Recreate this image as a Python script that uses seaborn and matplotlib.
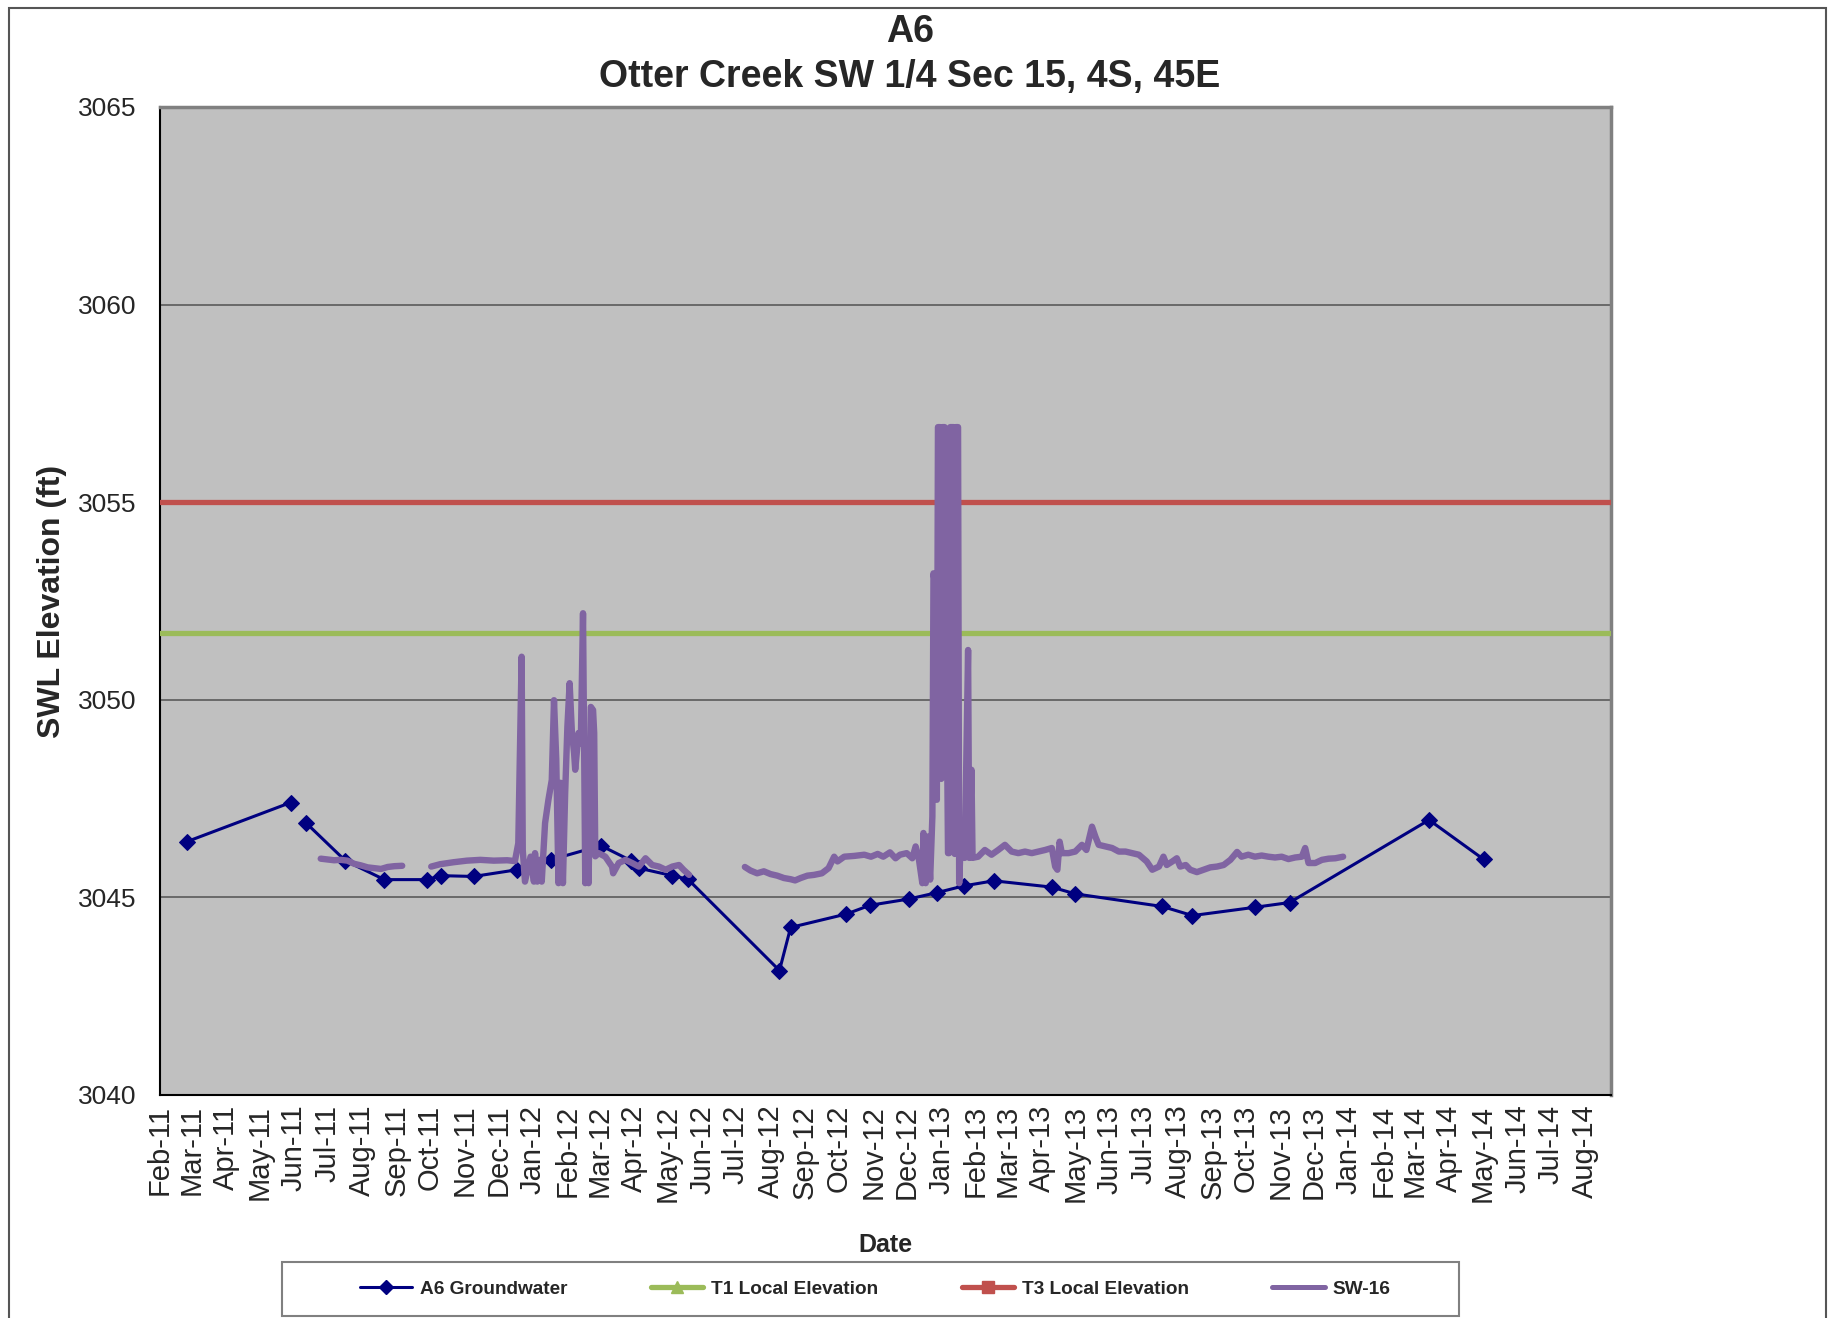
import pandas as pd
import numpy as np
import matplotlib
matplotlib.use('Agg')
import matplotlib.pyplot as plt
import matplotlib.dates as mdates
from matplotlib.lines import Line2D
from matplotlib.patches import Rectangle
import seaborn as sns

# A6 groundwater readings (run id splits the line where a reading is missing)
a6_dates = ['2011-02-25', '2011-05-29',
            '2011-06-12', '2011-07-17', '2011-08-21', '2011-09-28', '2011-10-11', '2011-11-09',
            '2011-12-18', '2012-01-17', '2012-03-02', '2012-03-29', '2012-04-05', '2012-05-05',
            '2012-05-19', '2012-08-09', '2012-08-19', '2012-10-08', '2012-10-29', '2012-12-03',
            '2012-12-28', '2013-01-21', '2013-02-17', '2013-04-10', '2013-05-01', '2013-07-18',
            '2013-08-14', '2013-10-09', '2013-11-09', '2014-03-14', '2014-05-02']
a6_swl = [3046.41, 3047.40,
          3046.88, 3045.93, 3045.45, 3045.45, 3045.55, 3045.53,
          3045.70, 3045.95, 3046.31, 3045.93, 3045.74, 3045.55,
          3045.46, 3043.15, 3044.24, 3044.58, 3044.80, 3044.96,
          3045.12, 3045.29, 3045.42, 3045.26, 3045.09, 3044.77,
          3044.54, 3044.75, 3044.87, 3046.96, 3045.96]
a6_run = [0, 0] + [1] * 29

t1_elev = 3051.7
t3_elev = 3055.0

# SW-16 logger, three recording periods
sw16_a_dates = ['2011-06-25', '2011-07-01', '2011-07-07', '2011-07-13', '2011-07-19', '2011-07-25',
                '2011-07-31', '2011-08-06', '2011-08-12', '2011-08-18', '2011-08-24', '2011-08-30',
                '2011-09-06']
sw16_a_swl = [3045.98, 3045.96, 3045.94, 3045.95, 3045.93, 3045.85,
              3045.81, 3045.76, 3045.74, 3045.72, 3045.77, 3045.79,
              3045.80]

sw16_b_dates = ['2011-10-02', '2011-10-10', '2011-10-22', '2011-11-03', '2011-11-15', '2011-11-27',
                '2011-12-09', '2011-12-16', '2011-12-19', '2011-12-22', '2011-12-23', '2011-12-25',
                '2011-12-30', '2012-01-02', '2012-01-03', '2012-01-05', '2012-01-07', '2012-01-09',
                '2012-01-12', '2012-01-15', '2012-01-18', '2012-01-20', '2012-01-22', '2012-01-24',
                '2012-01-26', '2012-01-28', '2012-01-30', '2012-02-01', '2012-02-03', '2012-02-05',
                '2012-02-07', '2012-02-08', '2012-02-11', '2012-02-13', '2012-02-15', '2012-02-17',
                '2012-02-18', '2012-02-20', '2012-02-22', '2012-02-24', '2012-02-25', '2012-02-26',
                '2012-02-29', '2012-03-06', '2012-03-12', '2012-03-13', '2012-03-18', '2012-03-24',
                '2012-03-30', '2012-04-05', '2012-04-11', '2012-04-17', '2012-04-23', '2012-04-29',
                '2012-05-05', '2012-05-11', '2012-05-15', '2012-05-20']
sw16_b_swl = [3045.78, 3045.84, 3045.89, 3045.93, 3045.95, 3045.93,
              3045.94, 3045.92, 3046.37, 3051.09, 3046.20, 3045.40,
              3046.03, 3045.40, 3046.12, 3045.40, 3045.95, 3045.40,
              3046.88, 3047.47, 3047.97, 3049.99, 3048.50, 3045.36,
              3047.90, 3045.36, 3047.64, 3049.32, 3050.42, 3049.20,
              3048.65, 3048.23, 3049.16, 3048.90, 3052.19, 3045.36,
              3048.82, 3045.36, 3049.82, 3049.74, 3049.16, 3046.04,
              3046.12, 3046.03, 3045.78, 3045.61, 3045.87, 3045.95,
              3045.87, 3045.78, 3045.99, 3045.82, 3045.78, 3045.70,
              3045.78, 3045.82, 3045.70, 3045.57]

sw16_c_dates = ['2012-07-09', '2012-07-14', '2012-07-20', '2012-07-26', '2012-08-01', '2012-08-07',
                '2012-08-13', '2012-08-19', '2012-08-23', '2012-08-28', '2012-09-03', '2012-09-09',
                '2012-09-16', '2012-09-22', '2012-09-27', '2012-09-30', '2012-10-06', '2012-10-15',
                '2012-10-24', '2012-10-30', '2012-11-05', '2012-11-10', '2012-11-16', '2012-11-21',
                '2012-11-25', '2012-12-01', '2012-12-06', '2012-12-09', '2012-12-12', '2012-12-15',
                '2012-12-16', '2012-12-18', '2012-12-20', '2012-12-22', '2012-12-24', '2012-12-25',
                '2012-12-26', '2012-12-27', '2012-12-28', '2012-12-29', '2012-12-31', '2013-01-01',
                '2013-01-02', '2013-01-04', '2013-01-05', '2013-01-07', '2013-01-08', '2013-01-09',
                '2013-01-12', '2013-01-13', '2013-01-14', '2013-01-16', '2013-01-17', '2013-01-18',
                '2013-01-20', '2013-01-22', '2013-01-25', '2013-01-26', '2013-01-28', '2013-01-29',
                '2013-02-03', '2013-02-09', '2013-02-15', '2013-02-21', '2013-02-27', '2013-03-05',
                '2013-03-11', '2013-03-17', '2013-03-23', '2013-03-29', '2013-04-04', '2013-04-10',
                '2013-04-13', '2013-04-15', '2013-04-17', '2013-04-19', '2013-04-25', '2013-05-01',
                '2013-05-07', '2013-05-11', '2013-05-16', '2013-05-19', '2013-05-22', '2013-05-28',
                '2013-06-03', '2013-06-09', '2013-06-15', '2013-06-21', '2013-06-27', '2013-07-04',
                '2013-07-09', '2013-07-15', '2013-07-19', '2013-07-22', '2013-07-27', '2013-07-31',
                '2013-08-03', '2013-08-08', '2013-08-12', '2013-08-18', '2013-08-24', '2013-08-30',
                '2013-09-05', '2013-09-11', '2013-09-17', '2013-09-23', '2013-09-27', '2013-10-03',
                '2013-10-09', '2013-10-15', '2013-10-21', '2013-10-27', '2013-11-02', '2013-11-08',
                '2013-11-14', '2013-11-20', '2013-11-23', '2013-11-26', '2013-12-02', '2013-12-08',
                '2013-12-14', '2013-12-20', '2013-12-27']
sw16_c_swl = [3045.77, 3045.68, 3045.61, 3045.66, 3045.59, 3045.55,
              3045.49, 3045.46, 3045.43, 3045.49, 3045.55, 3045.57,
              3045.61, 3045.74, 3046.03, 3045.91, 3046.03, 3046.05,
              3046.08, 3046.03, 3046.10, 3046.03, 3046.14, 3045.99,
              3046.08, 3046.12, 3045.99, 3046.29, 3045.95, 3045.36,
              3046.63, 3045.36, 3046.54, 3045.45, 3047.05, 3053.20,
              3053.00, 3049.16, 3047.47, 3056.90, 3056.90, 3048.00,
              3056.90, 3056.90, 3052.78, 3046.12, 3046.12, 3056.90,
              3056.90, 3046.10, 3056.90, 3056.90, 3045.36, 3046.10,
              3046.63, 3046.00, 3051.26, 3046.00, 3048.23, 3046.00,
              3046.03, 3046.20, 3046.08, 3046.20, 3046.33, 3046.16,
              3046.12, 3046.16, 3046.12, 3046.16, 3046.20, 3046.25,
              3045.78, 3045.70, 3046.41, 3046.12, 3046.12, 3046.16,
              3046.33, 3046.20, 3046.79, 3046.54, 3046.33, 3046.29,
              3046.25, 3046.16, 3046.16, 3046.12, 3046.08, 3045.91,
              3045.70, 3045.78, 3046.03, 3045.82, 3045.91, 3045.99,
              3045.78, 3045.82, 3045.70, 3045.64, 3045.70, 3045.76,
              3045.78, 3045.82, 3045.95, 3046.15, 3046.03, 3046.08,
              3046.03, 3046.06, 3046.03, 3046.01, 3046.03, 3045.97,
              3046.01, 3046.03, 3046.25, 3045.87, 3045.87, 3045.95,
              3045.98, 3045.99, 3046.03]

a6 = pd.DataFrame({'date': pd.to_datetime(a6_dates), 'swl': a6_swl, 'run': a6_run})
sw16 = pd.concat([
    pd.DataFrame({'date': pd.to_datetime(sw16_a_dates), 'swl': sw16_a_swl, 'run': 0}),
    pd.DataFrame({'date': pd.to_datetime(sw16_b_dates), 'swl': sw16_b_swl, 'run': 1}),
    pd.DataFrame({'date': pd.to_datetime(sw16_c_dates), 'swl': sw16_c_swl, 'run': 2}),
], ignore_index=True)

navy = '#000080'
green = '#9BBB59'
red = '#C0504D'
purple = '#8064A2'

sns.set_style('white')
plt.rcParams['font.family'] = ['Liberation Sans', 'DejaVu Sans']

fig = plt.figure(figsize=(18.29, 13.18), dpi=100)
ax = fig.add_axes([160 / 1829, 1 - 1095 / 1318, 1451 / 1829, 988 / 1318])
ax.set_facecolor('#C0C0C0')

sns.lineplot(data=a6, x='date', y='swl', units='run', estimator=None, sort=False,
             color=navy, lw=2.2, marker='D', markersize=8, markeredgecolor=navy,
             ax=ax, legend=False, zorder=3)
ax.axhline(t1_elev, color=green, lw=3.8, zorder=4)
ax.axhline(t3_elev, color=red, lw=3.8, zorder=4)
sns.lineplot(data=sw16, x='date', y='swl', units='run', estimator=None, sort=False,
             color=purple, lw=4.6, solid_joinstyle='round', solid_capstyle='round',
             ax=ax, legend=False, zorder=5)

ax.set_xlim(pd.Timestamp('2011-02-01'), pd.Timestamp('2014-08-24'))
ax.set_ylim(3040, 3065)
ax.set_yticks(np.arange(3040, 3066, 5))
ax.xaxis.set_major_locator(mdates.MonthLocator())
ax.xaxis.set_major_formatter(mdates.DateFormatter('%b-%y'))
ax.tick_params(axis='x', labelsize=21, length=0, pad=7, labelrotation=90)
ax.tick_params(axis='y', labelsize=19, length=0, pad=17)
ax.yaxis.grid(True, color='#5a5a5a', lw=1.2)
ax.xaxis.grid(False)
ax.set_axisbelow(True)

for side in ['left', 'bottom']:
    ax.spines[side].set_color('black')
    ax.spines[side].set_linewidth(1.5)
for side in ['top', 'right']:
    ax.spines[side].set_color('#808080')
    ax.spines[side].set_linewidth(2.5)

ax.set_xlabel('Date', fontsize=18, fontweight='bold', va='center')
ax.xaxis.set_label_coords(0.5, -(1245 - 1095) / 988)
ax.set_ylabel('SWL Elevation (ft)', fontsize=23, fontweight='bold', va='center')
ax.yaxis.set_label_coords(-(160 - 52) / 1451, 0.5)

fig.text(910 / 1829, 1 - 32 / 1318, 'A6', fontsize=27, fontweight='bold', ha='center', va='center')
fig.text(910 / 1829, 1 - 77 / 1318, 'Otter Creek SW 1/4 Sec 15, 4S, 45E', fontsize=27,
         fontweight='bold', ha='center', va='center')

handles = [
    Line2D([], [], color=navy, lw=2.2, marker='D', markersize=7),
    Line2D([], [], color=green, lw=3.8, marker='^', markersize=9),
    Line2D([], [], color=red, lw=3.8, marker='s', markersize=8),
    Line2D([], [], color=purple, lw=3.6),
]
labels = ['A6 Groundwater', 'T1 Local Elevation', 'T3 Local Elevation', 'SW-16']
fig.legend(handles, labels, loc='center', bbox_to_anchor=(875 / 1829, 1 - 1289 / 1318),
           ncol=4, frameon=False, prop={'size': 13.7, 'weight': 'bold'},
           handlelength=2.75, handletextpad=0.4, columnspacing=4.4)
fig.patches.append(Rectangle((282 / 1829, 1 - 1316 / 1318), 1177 / 1829, 54 / 1318,
                             transform=fig.transFigure, fill=False, edgecolor='#808080', lw=1.5))
fig.patches.append(Rectangle((9 / 1829, -0.01), 1817 / 1829, 1.007 - 4 / 1318,
                             transform=fig.transFigure, fill=False, edgecolor='#555555', lw=1.5))

fig.savefig('out.png', dpi=100, facecolor='white')
